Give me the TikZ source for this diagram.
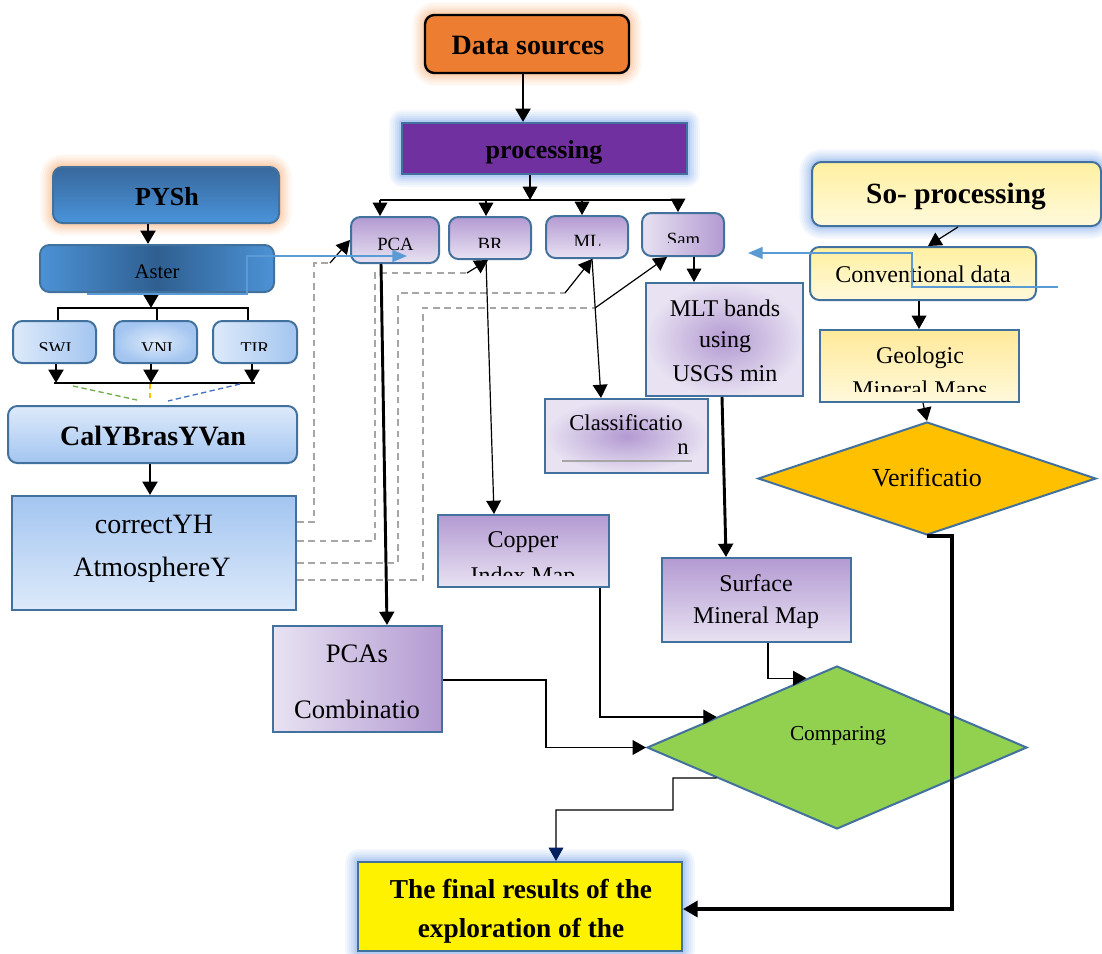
\documentclass[tikz,border=0pt]{standalone}
\usepackage{fontspec}
\setmainfont{Liberation Serif}
\usetikzlibrary{arrows.meta,fit,shapes.geometric,calc}
\definecolor{bord}{HTML}{41719C}
\definecolor{orangeF}{HTML}{ED7D31}
\definecolor{purpF}{HTML}{7030A0}
\definecolor{lavD}{HTML}{B39AD2}
\definecolor{lavL}{HTML}{E8E2F2}
\definecolor{pyT}{HTML}{38689C}
\definecolor{pyB}{HTML}{4A93DA}
\definecolor{blueD}{HTML}{2F5F90}
\definecolor{blueM}{HTML}{4C92D6}
\definecolor{blueL}{HTML}{DDEAFA}
\definecolor{blueL2}{HTML}{A3C5F0}
\definecolor{yelD}{HTML}{FFE999}
\definecolor{yelT}{HTML}{FFF0A0}
\definecolor{yelL}{HTML}{FFF9DC}
\definecolor{greenF}{HTML}{92D050}
\definecolor{goldF}{HTML}{FFC000}
\definecolor{dashG}{HTML}{A6A6A6}
\definecolor{glowB}{HTML}{8FB4EC}
\definecolor{glowO}{HTML}{F8B98A}
\definecolor{lineB}{HTML}{5B9BD5}
\definecolor{navy}{HTML}{002060}
\definecolor{dGreen}{HTML}{70AD47}
\definecolor{dBlue}{HTML}{4472C4}
\newcommand\fsz[1]{\fontsize{#1}{#1}\selectfont}
\begin{document}
\begin{tikzpicture}[x=0.75pt,y=-0.75pt,
 box/.style={draw=bord,line width=1.5pt,inner sep=0pt},
 rbox/.style={box,rounded corners=7pt},
 glow/.style={preaction={draw=#1,line join=round,line width=19pt,opacity=.1},
              preaction={draw=#1,line join=round,line width=16pt,opacity=.1},
              preaction={draw=#1,line join=round,line width=13pt,opacity=.12},
              preaction={draw=#1,line join=round,line width=10pt,opacity=.15},
              preaction={draw=#1,line join=round,line width=7pt,opacity=.2},
              preaction={draw=#1,line join=round,line width=4pt,opacity=.3}},
 txt/.style={anchor=base,inner sep=0pt,align=center},
 tip/.style={-{Triangle[width=11pt,length=10pt]}},
 thk/.style={tip,line width=2.2pt},
 thn/.style={tip,line width=0.9pt},
 bus/.style={line width=2.2pt},
 dsh/.style={draw=dashG,line width=1.2pt,dash pattern=on 5pt off 3.5pt},
 bl/.style={draw=lineB,line width=1pt,-{Triangle[width=9pt,length=11pt]}},
]
\useasboundingbox (0,0) rectangle (1102,953);

% ---------- top centre ----------
\node[rbox,draw=black,line width=1.8pt,fill=orangeF,glow=glowO,fit={(425,15)(629,73)}] (ds) {};
\node[txt,font={\fsz{21pt}\bfseries}] (dst) at (528,54) {Data sources};
\node[box,fill=purpF,glow=glowB,fit={(402,123)(687,174)}] (proc) {};
\node[txt,font={\fsz{19.5pt}\bfseries}] (proct) at (544,158) {processing};

% ---------- left column ----------
\node[rbox,top color=pyT,bottom color=pyB,glow=glowO,fit={(53,167)(279,223)}] (pysh) {};
\node[txt,font={\fsz{19.5pt}\bfseries}] (pysht) at (167,205) {PYSh};
\node[rbox,left color=blueM,right color=blueM,middle color=blueD,fit={(40,245)(274,292)}] (aster) {};
\node[txt,font={\fsz{15.5pt}}] (astert) at (157,278) {Aster};

\node[rbox,left color=blueL,right color=blueL2,fit={(13,321)(96,363)}] (swi) {};
\node[rbox,inner color=blueL,outer color=blueL2,fit={(114,321)(197,363)}] (vni) {};
\node[rbox,left color=blueL,right color=blueL2,fit={(213,321)(297,363)}] (tir) {};
\begin{scope}
\clip (13,321) rectangle (297,350);
\node[txt,font={\fsz{13.5pt}}] (swit) at (55,354) {SWI};
\node[txt,font={\fsz{13.5pt}}] (vnit) at (157,354) {VNI};
\node[txt,font={\fsz{13.5pt}}] (tirt) at (255,354) {TIR};
\end{scope}

\node[rbox,top color=blueL,bottom color=blueL2,fit={(8,406)(297,463)}] (cal) {};
\node[txt,font={\fsz{21pt}\bfseries}] (calt) at (153,445) {CalYBrasYVan};
\node[box,top color=blueL2,bottom color=blueL,fit={(12,496)(296,610)}] (corr) {};
\node[txt,font={\fsz{21pt}}] (corrt1) at (154,533) {correctYH};
\node[txt,font={\fsz{21pt}}] (corrt2) at (152,576) {AtmosphereY};

% ---------- method boxes ----------
\node[rbox,top color=lavD,bottom color=lavL,fit={(351,217)(439,263)}] (pca) {};
\node[rbox,top color=lavD,bottom color=lavL,fit={(449,217)(531,259)}] (br) {};
\node[rbox,top color=lavD,bottom color=lavL,fit={(546,216)(628,258)}] (ml) {};
\node[rbox,left color=lavL,right color=lavD,fit={(642,213)(724,256)}] (sam) {};
\begin{scope}\clip (351,217) rectangle (439,251);
\node[txt,font={\fsz{14pt}}] (pcat) at (395.5,250) {PCA};\end{scope}
\begin{scope}\clip (449,217) rectangle (531,247);
\node[txt,font={\fsz{14pt}}] (brt) at (490,250) {BR};\end{scope}
\begin{scope}\clip (546,216) rectangle (628,245);
\node[txt,font={\fsz{14pt}}] (mlt-t) at (587.5,247) {ML};\end{scope}
\begin{scope}\clip (642,213) rectangle (724,242);
\node[txt,font={\fsz{14pt}}] (samt) at (683.5,245) {Sam};\end{scope}

\node[box,inner color=lavD,outer color=lavL,fit={(646,283)(803,396)}] (mlt) {};
\node[txt,font={\fsz{18pt}}] (mlt1) at (725,316) {MLT bands};
\node[txt,font={\fsz{18pt}}] (mlt2) at (725,347) {using};
\node[txt,font={\fsz{18pt}}] (mlt3) at (725,381) {USGS min};

\node[box,inner color=lavD,outer color=lavL,fit={(545,399)(708,473)}] (cls) {};
\node[txt,font={\fsz{17pt}}] (cls1) at (626,430) {Classificatio};
\node[txt,anchor=base east,font={\fsz{17pt}}] (cls2) at (689,454) {n};
\draw[draw=dashG,line width=1.2pt] (562,461) -- (692,461);

\node[box,top color=lavD,bottom color=lavL,fit={(438,515)(609,587)}] (cop) {};
\node[txt,font={\fsz{18pt}}] (cop1) at (523,547) {Copper};
\begin{scope}\clip (438,515) rectangle (609,575);
\node[txt,font={\fsz{18pt}}] (cop2) at (523,583) {Index Map};\end{scope}

\node[box,top color=lavD,bottom color=lavL,fit={(662,558)(851,642)}] (surf) {};
\node[txt,font={\fsz{18pt}}] (surf1) at (756,591) {Surface};
\node[txt,font={\fsz{18pt}}] (surf2) at (756,623) {Mineral Map};

\node[box,left color=lavL,right color=lavD,fit={(273,626)(442,732)}] (pcas) {};
\node[txt,font={\fsz{20pt}}] (pcas1) at (357,662) {PCAs};
\node[txt,font={\fsz{20pt}}] (pcas2) at (357,718) {Combinatio};

% ---------- right column ----------
\node[rbox,top color=yelT,bottom color=yelL,glow=glowB,fit={(812,162)(1101,226)}] (so) {};
\node[txt,font={\fsz{22pt}\bfseries}] (sot) at (956,203) {So- processing};
\node[rbox,top color=yelT,bottom color=yelL,fit={(810,247)(1036,300)}] (conv) {};
\node[txt,font={\fsz{18pt}}] (convt) at (923,282) {Conventional data};
\node[box,top color=yelD,bottom color=yelL,fit={(820,330)(1019,402)}] (geo) {};
\node[txt,font={\fsz{18pt}}] (geo1) at (920,363) {Geologic};
\begin{scope}\clip (820,330) rectangle (1019,391);
\node[txt,font={\fsz{18pt}}] (geo2) at (920,397) {Mineral Maps};\end{scope}

\node[diamond,draw=bord,line width=1.5pt,fill=goldF,inner sep=0pt,
      minimum width=253.5pt,minimum height=84.75pt] (ver) at (927,478.5) {};
\node[txt,font={\fsz{19.5pt}}] (vert) at (927,486) {Verificatio};

\node[diamond,draw=bord,line width=1.5pt,fill=greenF,inner sep=0pt,
      minimum width=285pt,minimum height=122.25pt] (comp) at (837,747.5) {};
\node[txt,font={\fsz{16pt}}] (compt) at (838,740) {Comparing};

\node[box,fill=yellow,glow=glowB,fit={(358,862)(682,951)}] (fin) {};
\node[txt,font={\fsz{20.5pt}\bfseries}] (fin1) at (521,898) {The final results of the};
\node[txt,font={\fsz{20.5pt}\bfseries}] (fin2) at (521,937) {exploration of the};

% ---------- connectors ----------
\draw[thk] (ds.south -| 523,0) -- (proc.north -| 523,0);
\coordinate (pbus) at (530,200);
\draw[thn] (proc.south -| pbus) -- (pbus);
\draw[line width=0.9pt] (380,200) -- (680,200);
\draw[thn] (380,200) -- (pca.north -| 380,0);
\draw[thn] (486,200) -- (br.north -| 486,0);
\draw[thn] (582,200) -- (ml.north -| 582,0);
\draw[thn] (678,200) -- (sam.north -| 678,0);

\draw[thk] (pysh.south -| 148,0) -- (aster.north -| 148,0);
\coordinate (abus) at (151,308);
\draw[thk] (aster.south -| abus) -- (abus);
\draw[bus] (swi.north -| 58,0) |- (248,308) -- (tir.north -| 248,0);
\draw[bus] (157,308) -- (vni.north -| 157,0);
\draw[thk] (swi.south -| 56,0) -- (56,383);
\draw[thk] (vni.south -| 151,0) -- (151,383);
\draw[thk] (tir.south -| 252,0) -- (252,383);
\draw[bus] (54,383) -- (255,383);
\draw[draw=dGreen,line width=1pt,dash pattern=on 4pt off 2.5pt] (73,386) -- (137,400);
\draw[draw=goldF,line width=1pt,dash pattern=on 4pt off 2.5pt] (150,384) -- (150,400);
\draw[draw=dBlue,line width=1pt,dash pattern=on 4pt off 2.5pt] (240,384) -- (168,401);
\draw[thk] (cal.south -| 150,0) -- (corr.north -| 150,0);

% dashed links
\coordinate (d1) at (330,263);
\coordinate (d2) at (467,273);
\coordinate (d3) at (565,293);
\coordinate (d4) at (595,308);
\draw[dsh] (corr.east |- 0,522) -| (314,263) -- (d1);
\draw[dsh] (corr.east |- 0,541) -| (375,273) -- (d2);
\draw[dsh] (corr.east |- 0,563) -| (398,293) -- (d3);
\draw[dsh] (corr.east |- 0,580) -| (423,308) -- (d4);
\draw[thn] (d1) -- (pca.west);
\draw[thn] (d2) -- (br.south -| 488,0);
\draw[thn] (d3) -- (ml.south -| 592,0);
\draw[thn] (d4) -- (sam.south -| 667,0);

% blue stray lines
\draw[bl] (87,294) -| (247,256) -- (407,256);
\draw[bl] (1058,287) -| (912,253) -- (748,253);

\draw[thk] (pca.south -| 381,0) -- (pcas.north -| 387,0);
\draw[thn] (br.south -| 486,0) -- (cop.north -| 494,0);
\draw[thn] (ml.south -| 592,0) -- (cls.north -| 601,0);
\draw[thn] (sam.south -| 694,0) -- (mlt.north -| 694,0);
\draw[thk] (mlt.south -| 722,0) -- (surf.north -| 726,0);

\draw[thn] (so.south -| 958,0) -- (conv.north -| 928,0);
\draw[thn] (conv.south -| 919,0) -- (geo.north -| 919,0);
\draw[thn] (geo.south -| 923,0) -- (ver.north);

\draw[thn] (cop.south -| 600,0) |- ($(comp.west)!0.37!(comp.north)$);
\draw[thn] (surf.south -| 768,0) |- ($(comp.west)!0.84!(comp.north)$);
\draw[thn] (pcas.east |- 0,680) -- (546,680) |- (comp.west);
\draw[line width=0.9pt,-{Triangle[width=11pt,length=10pt,color=navy]}]
  ($(comp.west)!0.37!(comp.south)$) -- (673,778) |- (556,810) -- (fin.north -| 556,0);
\draw[line width=2.6pt,-{Triangle[width=12pt,length=11pt]}]
  (ver.south) -| (952,909) -- (fin.east |- 0,909);
\end{tikzpicture}
\end{document}
